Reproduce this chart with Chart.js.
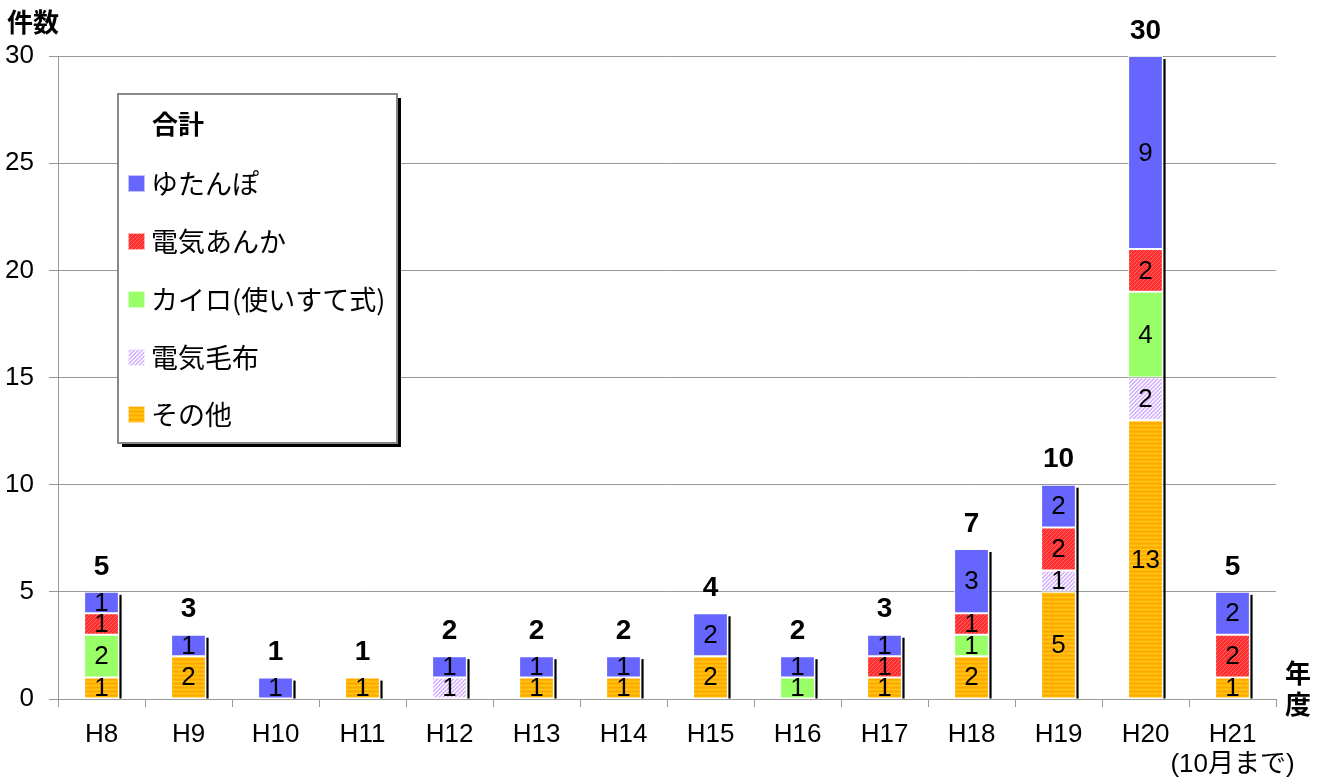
<!DOCTYPE html>
<html>
<head>
<meta charset="utf-8">
<script src="https://cdn.jsdelivr.net/npm/chart.js@4/dist/chart.umd.min.js"></script>
<style>
  html, body { margin: 0; padding: 0; background: #ffffff; }
  #wrap { width: 1326px; height: 783px; position: relative; }
</style>
</head>
<body>
<div id="wrap"><canvas id="c" width="1326" height="783"></canvas></div>
<script>
// 年度別の事故件数（種類別の内訳）
const years = ['H8', 'H9', 'H10', 'H11', 'H12', 'H13', 'H14', 'H15', 'H16', 'H17', 'H18', 'H19', 'H20', ['H21', '(10月まで)']];

const sonota    = [1, 2, 0, 1, 0, 1, 1, 2, 0, 1, 2, 5, 13, 1];   // その他
const denkiMofu = [0, 0, 0, 0, 1, 0, 0, 0, 0, 0, 0, 1, 2, 0];    // 電気毛布
const kairo     = [2, 0, 0, 0, 0, 0, 0, 0, 1, 0, 1, 0, 4, 0];    // カイロ(使いすて式)
const denkiAnka = [1, 0, 0, 0, 0, 0, 0, 0, 0, 1, 1, 2, 2, 2];    // 電気あんか
const yutanpo   = [1, 1, 1, 0, 1, 1, 1, 2, 1, 1, 3, 2, 9, 2];    // ゆたんぽ

const yTicks = [0, 5, 10, 15, 20, 25, 30];

const NUM_FONT = '"Liberation Sans", "Noto Sans CJK JP", sans-serif';
const JP_FONT = '"Noto Sans CJK JP", "Liberation Sans", sans-serif';

// 塗りパターン
function makePattern(w, h, draw) {
  const cv = document.createElement('canvas');
  cv.width = w; cv.height = h;
  const g = cv.getContext('2d');
  draw(g);
  return g.createPattern(cv, 'repeat');
}
const patRed = makePattern(4, 4, g => {
  g.fillStyle = '#ff2e2e'; g.fillRect(0, 0, 4, 4);
  g.fillStyle = '#ff6262';
  for (let i = 0; i < 4; i++) g.fillRect(i, 3 - i, 1, 1);
});
const patLavender = makePattern(4, 4, g => {
  g.fillStyle = '#f8f2ff'; g.fillRect(0, 0, 4, 4);
  g.fillStyle = '#d6b6ff';
  for (let i = 0; i < 4; i++) { g.fillRect(i, 3 - i, 1, 1); g.fillRect(i, (4 - i) % 4, 1, 1); }
});
const patOrange = makePattern(4, 4, g => {
  g.fillStyle = '#ffb400'; g.fillRect(0, 0, 4, 4);
  g.fillStyle = '#ffc41e'; g.fillRect(0, 1, 4, 1);
  g.fillStyle = '#ffa800'; g.fillRect(0, 3, 4, 1);
});

const series = [
  { label: 'その他', data: sonota, backgroundColor: patOrange },
  { label: '電気毛布', data: denkiMofu, backgroundColor: patLavender },
  { label: 'カイロ(使いすて式)', data: kairo, backgroundColor: '#99ff66' },
  { label: '電気あんか', data: denkiAnka, backgroundColor: patRed },
  { label: 'ゆたんぽ', data: yutanpo, backgroundColor: '#6666ff' }
];

const totals = years.map((_, i) => series.reduce((s, d) => s + d.data[i], 0));

// 棒の右側の影、内訳の数値、合計の数値
const barDecor = {
  id: 'barDecor',
  afterDatasetsDraw(chart) {
    const ctx = chart.ctx;
    const metas = chart.data.datasets.map((_, k) => chart.getDatasetMeta(k));
    ctx.save();
    years.forEach((_, i) => {
      let top = Infinity, base = null, right = null, cx = null;
      metas.forEach((m, k) => {
        const v = chart.data.datasets[k].data[i];
        const el = m.data[i];
        if (v > 0) {
          top = Math.min(top, el.y);
          base = base === null ? el.base : Math.max(base, el.base);
          right = el.x + el.width / 2;
          cx = el.x;
        }
      });
      if (cx === null) return;
      // 影
      ctx.fillStyle = '#000000';
      ctx.fillRect(right + 0.5, top + 3, 2.2, base - top - 3);
      // 合計
      ctx.fillStyle = '#000000';
      ctx.font = 'bold 28px ' + NUM_FONT;
      ctx.textAlign = 'center';
      ctx.textBaseline = 'middle';
      ctx.fillText(String(totals[i]), cx, top - 25);
    });
    // 内訳
    ctx.font = '26px ' + NUM_FONT;
    ctx.fillStyle = '#000000';
    ctx.textAlign = 'center';
    ctx.textBaseline = 'middle';
    metas.forEach((m, k) => {
      const ds = chart.data.datasets[k];
      m.data.forEach((el, i) => {
        const v = ds.data[i];
        if (v > 0) ctx.fillText(String(v), el.x, (el.y + el.base) / 2 + 1);
      });
    });
    ctx.restore();
  }
};

// 軸の見出しと凡例
const frame = {
  id: 'frame',
  afterDraw(chart) {
    const ctx = chart.ctx;
    ctx.save();
    ctx.fillStyle = '#000000';
    ctx.textBaseline = 'middle';
    ctx.textAlign = 'left';
    ctx.font = 'bold 26px ' + JP_FONT;
    ctx.fillText('件数', 7, 22);
    ctx.textAlign = 'center';
    ctx.fillText('年', 1298, 673);
    ctx.fillText('度', 1298, 704);

    // 凡例
    const bx = 118, by = 94, bw = 279, bh = 349;
    ctx.fillStyle = '#000000';
    ctx.fillRect(bx + 4, by + 4, bw, bh);
    ctx.fillStyle = '#ffffff';
    ctx.fillRect(bx, by, bw, bh);
    ctx.strokeStyle = '#888888';
    ctx.lineWidth = 2;
    ctx.strokeRect(bx, by, bw, bh);

    ctx.textAlign = 'left';
    ctx.fillStyle = '#000000';
    ctx.font = 'bold 26px ' + JP_FONT;
    ctx.fillText('合計', 152, 124);

    const order = [4, 3, 2, 1, 0];
    const ys = [183, 241, 299, 357, 414];
    order.forEach((k, j) => {
      const ds = chart.data.datasets[k];
      const y = ys[j];
      ctx.fillStyle = ds.backgroundColor;
      ctx.fillRect(128, y - 8, 17, 17);
      ctx.strokeStyle = 'rgba(255,255,255,0.6)';
      ctx.lineWidth = 1;
      ctx.strokeRect(128.5, y - 7.5, 16, 16);
      ctx.fillStyle = '#000000';
      ctx.font = '27px ' + JP_FONT;
      ctx.fillText(ds.label, 151, y + 1);
    });
    ctx.restore();
  }
};

new Chart(document.getElementById('c'), {
  type: 'bar',
  data: {
    labels: years,
    datasets: series.map(s => ({
      label: s.label,
      data: s.data,
      backgroundColor: s.backgroundColor,
      borderColor: 'rgba(255,255,255,0.75)',
      borderWidth: 1,
      borderSkipped: false,
      barPercentage: 0.4,
      categoryPercentage: 1.0,
      stack: 'total'
    }))
  },
  options: {
    responsive: false,
    animation: false,
    layout: { padding: { top: 56, right: 50, left: 0, bottom: 0 } },
    plugins: { legend: { display: false }, tooltip: { enabled: false } },
    scales: {
      x: {
        stacked: true,
        grid: { display: true, drawOnChartArea: false, drawTicks: true, tickLength: 8, color: '#999999', offset: true },
        border: { display: true, color: '#999999', width: 1 },
        ticks: {
          color: '#000000',
          font: { family: NUM_FONT, size: 26, lineHeight: 1.15 },
          padding: 13,
          maxRotation: 0,
          autoSkip: false
        },
        afterFit(scale) { scale.height = 84; }
      },
      y: {
        stacked: true,
        min: 0,
        max: 30,
        afterBuildTicks(scale) { scale.ticks = yTicks.map(v => ({ value: v })); },
        grid: { color: '#999999', drawTicks: true, tickLength: 9 },
        border: { display: true, color: '#999999', width: 1 },
        ticks: {
          color: '#000000',
          font: { family: NUM_FONT, size: 26 },
          padding: 15
        },
        afterFit(scale) { scale.width = 58; }
      }
    }
  },
  plugins: [barDecor, frame]
});
</script>
</body>
</html>
